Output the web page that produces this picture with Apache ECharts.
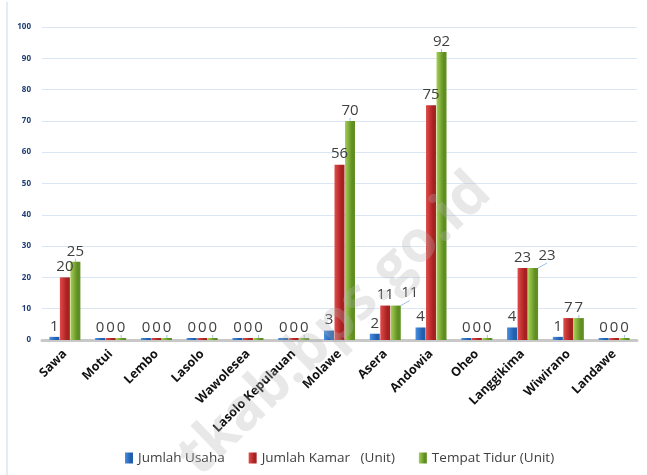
<!DOCTYPE html>
<html>
<head>
<meta charset="utf-8">
<script src="https://cdn.jsdelivr.net/npm/echarts@6/dist/echarts.min.js"></script>
<style>
  html, body { margin: 0; padding: 0; background: #fff; }
  #chart { width: 647px; height: 475px; }
</style>
</head>
<body>
<div id="chart"></div>
<script>
// kecamatan
const categories = ['Sawa', 'Motui', 'Lembo', 'Lasolo', 'Wawolesea', 'Lasolo Kepulauan',
  'Molawe', 'Asera', 'Andowia', 'Oheo', 'Langgikima', 'Wiwirano', 'Landawe'];
const jumlahUsaha = [1, 0, 0, 0, 0, 0, 3, 2, 4, 0, 4, 1, 0];
const jumlahKamar = [20, 0, 0, 0, 0, 0, 56, 11, 75, 0, 23, 7, 0];
const tempatTidur = [25, 0, 0, 0, 0, 0, 70, 11, 92, 0, 23, 7, 0];
const yTicks = [0, 10, 20, 30, 40, 50, 60, 70, 80, 90, 100];

const chart = echarts.init(document.getElementById('chart'));

function shade(light, dark) {
  return new echarts.graphic.LinearGradient(0, 0, 1, 0, [
    { offset: 0, color: light },
    { offset: 0.7, color: dark },
    { offset: 1, color: dark }
  ]);
}

const labelStyle = {
  show: true,
  position: 'top',
  distance: 3,
  fontSize: 15,
  color: '#404040',
  fontFamily: 'Open Sans'
};

const option = {
  animation: false,
  backgroundColor: '#fff',
  graphic: [
    {
      type: 'line',
      shape: { x1: 7, y1: 2, x2: 7, y2: 475 },
      style: { stroke: '#c6d7ee', lineWidth: 1 }
    },
    {
      type: 'text',
      x: 335, y: 325,
      rotation: Math.PI / 4.1,
      z: 100,
      style: {
        text: 'tkab.bps.go.id',
        fontSize: 58,
        fontWeight: 'bold',
        fontFamily: 'Open Sans',
        fill: 'rgba(180,180,180,0.3)',
        align: 'center',
        verticalAlign: 'middle'
      }
    }
  ],
  legend: {
    bottom: 5,
    left: 120,
    itemWidth: 8,
    itemHeight: 11,
    itemGap: 24,
    icon: 'rect',
    textStyle: { color: '#404040', fontSize: 13.5, fontFamily: 'Open Sans' },
    data: ['Jumlah Usaha', 'Jumlah Kamar   (Unit)', 'Tempat Tidur (Unit)']
  },
  grid: { left: 42, right: 10, top: 27, bottom: 135 },
  xAxis: {
    type: 'category',
    data: categories,
    axisLine: { show: true, lineStyle: { color: '#c8c8c8', width: 3 } },
    axisTick: { show: false },
    axisLabel: {
      interval: 0,
      rotate: 45,
      margin: 12,
      fontSize: 12.5,
      fontWeight: 'bold',
      color: '#111',
      fontFamily: 'Open Sans'
    }
  },
  yAxis: {
    type: 'value',
    min: yTicks[0],
    max: yTicks[yTicks.length - 1],
    interval: 10,
    axisLine: { show: false },
    axisTick: { show: false },
    splitLine: { lineStyle: { color: '#dbe6f4', width: 1 } },
    axisLabel: {
      margin: 11,
      fontSize: 8,
      fontWeight: 'bold',
      color: '#1f3d73',
      fontFamily: 'Open Sans'
    }
  },
  series: [
    {
      name: 'Jumlah Usaha',
      type: 'bar',
      barWidth: 10,
      barGap: '5%',
      barMinHeight: 2,
      data: jumlahUsaha,
      itemStyle: { color: shade('#4a8fe0', '#1f5fae') },
      label: labelStyle
    },
    {
      name: 'Jumlah Kamar   (Unit)',
      type: 'bar',
      barWidth: 10,
      barMinHeight: 2,
      data: jumlahKamar,
      itemStyle: { color: shade('#e24a4a', '#a82121') },
      label: labelStyle
    },
    {
      name: 'Tempat Tidur (Unit)',
      type: 'bar',
      barWidth: 10,
      barMinHeight: 2,
      data: tempatTidur,
      itemStyle: { color: shade('#a6d055', '#5f8e22') },
      label: labelStyle,
      labelLine: { show: true, lineStyle: { color: '#9dc3e6', width: 1 } },
      // two-digit labels equal to the red ones are nudged right, like Excel did
      labelLayout: function (p) {
        const i = p.dataIndex;
        if (tempatTidur[i] >= 10 && tempatTidur[i] === jumlahKamar[i]) {
          return { dx: 14, dy: -2 };
        }
        return {};
      }
    }
  ]
};

chart.setOption(option);
</script>
</body>
</html>
